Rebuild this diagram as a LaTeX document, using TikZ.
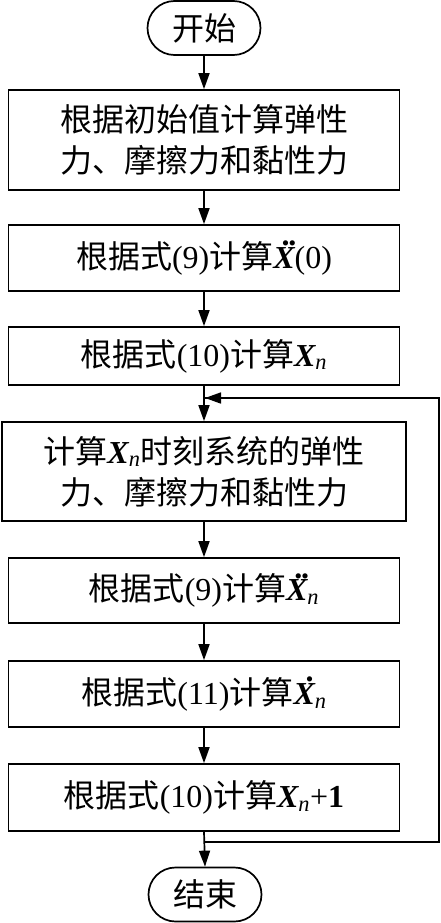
\documentclass[tikz,border=0pt]{standalone}
\usepackage{fontspec}
\setmainfont{Liberation Serif}
\newfontfamily\cjk{Noto Sans CJK SC}
\usetikzlibrary{arrows.meta}
\newcommand{\Xb}{{\bfseries\itshape X}}
\newcommand{\sbn}{\textsubscript{\itshape n}}
\newcommand{\ddX}{\makebox[0pt][l]{\hspace{0.26em}\raisebox{0.71em}{\bfseries.\kern-0.04em.}}\Xb}
\newcommand{\dX}{\makebox[0pt][l]{\hspace{0.38em}\raisebox{0.71em}{\bfseries.}}\Xb}
\tikzset{
  procbox/.style={draw, line width=1.7pt, minimum width=391pt, inner sep=0pt, align=center,
    font=\fontsize{32}{41}\selectfont},
  term/.style={draw, line width=1.7pt, rounded corners=27pt, minimum width=113pt, minimum height=54pt,
    inner sep=0pt, font=\fontsize{32}{41}\selectfont\cjk},
  arr/.style={-{Triangle[length=16pt,width=11pt]}, line width=1.7pt},
  ln/.style={line width=1.7pt}
}
\begin{document}
\begin{tikzpicture}[x=1pt,y=-1pt]
\useasboundingbox (0,0) rectangle (441,923);
\node[term] (start) at (204,28) {开始};
\node[procbox, minimum height=100pt] (b1) at (204,140) {{\cjk 根据初始值计算弹性}\\{\cjk 力、摩擦力和黏性力}};
\node[procbox, minimum height=66pt] (b2) at (204,258) {{\cjk 根据式}(9){\cjk 计算}\ddX(0)};
\node[procbox, minimum height=58pt] (b3) at (204,356) {{\cjk 根据式}(10){\cjk 计算}\Xb\sbn};
\node[procbox, minimum height=99pt, minimum width=404pt] (b4) at (204,471.5) {{\cjk 计算}\Xb\sbn{\cjk 时刻系统的弹性}\\{\cjk 力、摩擦力和黏性力}};
\node[procbox, minimum height=65pt] (b5) at (204,590.5) {{\cjk 根据式}(9){\cjk 计算}\ddX\sbn};
\node[procbox, minimum height=66pt] (b6) at (204,694) {{\cjk 根据式}(11){\cjk 计算}\dX\sbn};
\node[procbox, minimum height=67pt] (b7) at (204,797.5) {{\cjk 根据式}(10){\cjk 计算}\Xb\sbn+\textbf{1}};
\node[term] (end) at (205,894.5) {结束};
\coordinate (j1) at (204,398);
\coordinate (j2) at (204,842);
\coordinate (r1) at (439,398);
\coordinate (r2) at (439,842);
\draw[arr] (start) -- (b1);
\draw[arr] (b1) -- (b2);
\draw[arr] (b2) -- (b3);
\draw[arr] (b3) -- (b4);
\draw[arr] (b4) -- (b5);
\draw[arr] (b5) -- (b6);
\draw[arr] (b6) -- (b7);
\draw[arr] (b7.south) -- (end.north);
\draw[ln] (j2) -- (r2) -- (r1) -- ([xshift=1pt]j1);
\draw[arr] (r1) -- ([xshift=1pt]j1);
\end{tikzpicture}
\end{document}
